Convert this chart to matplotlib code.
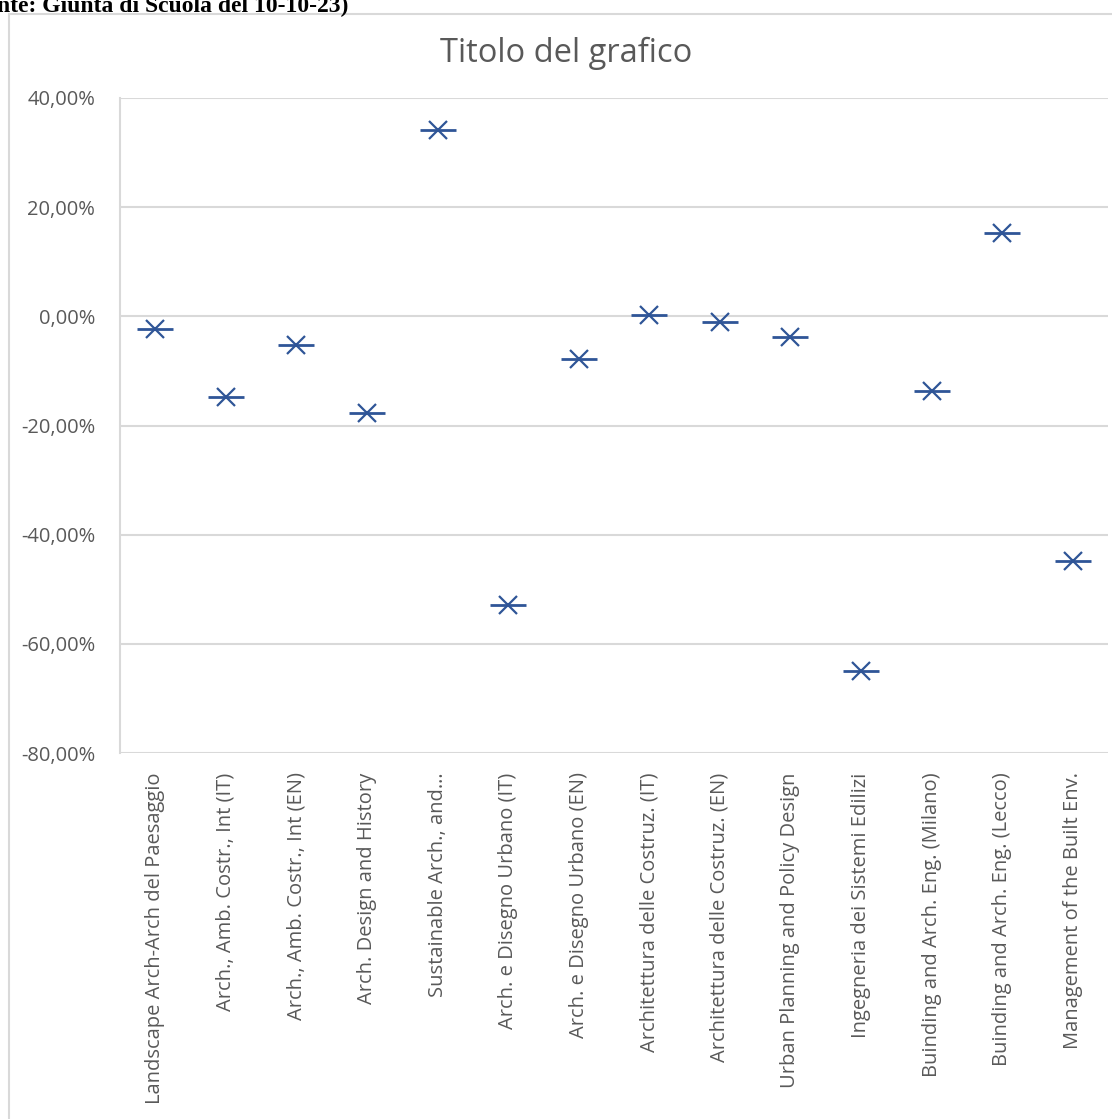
import numpy as np
import matplotlib.pyplot as plt
from matplotlib.patches import Rectangle
from matplotlib.ticker import FuncFormatter

corsi = [
    "Landscape Arch-Arch del Paesaggio",
    "Arch., Amb. Costr., Int (IT)",
    "Arch., Amb. Costr., Int (EN)",
    "Arch. Design and History",
    "Sustainable Arch., and\u2026",
    "Arch. e Disegno Urbano (IT)",
    "Arch. e Disegno Urbano (EN)",
    "Architettura delle Costruz. (IT)",
    "Architettura delle Costruz. (EN)",
    "Urban Planning and Policy Design",
    "Ingegneria dei Sistemi Edilizi",
    "Buinding and Arch. Eng. (Milano)",
    "Buinding and Arch. Eng. (Lecco)",
    "Management of the Built Env.",
]
variazione = [-2.4, -14.8, -5.3, -17.8, 34.2, -52.9, -7.9, 0.2, -1.1, -3.7, -65.0, -13.6, 15.2, -44.9]
y_ticks = [40, 20, 0, -20, -40, -60, -80]

blu = "#2F5597"
grigio = "#D9D9D9"
testo = "#595959"

plt.rcParams['font.family'] = ['Open Sans', 'DejaVu Sans']

fig = plt.figure(figsize=(11.12, 11.19), dpi=100)

# chart frame (Excel-like border)
fig.patches.append(Rectangle((9 / 1112, -0.1), 1.2, 1 - 14 / 1119 + 0.1,
                             transform=fig.transFigure, fill=False,
                             edgecolor=grigio, linewidth=1.5))

fig.text(-3 / 1112, 1 - 12 / 1119, "nte: Giunta di Scuola del 10-10-23)",
         family="Liberation Serif", fontweight="bold", fontsize=17,
         ha="left", va="baseline", color="black")

ax = fig.add_axes([120 / 1112, 1 - 753 / 1119, (1108 - 120) / 1112, (753 - 98) / 1119])

x = np.arange(len(corsi))
ax.plot(x, variazione, linestyle="none", marker="_", markersize=26,
        markeredgewidth=2.0, color=blu)
ax.plot(x, variazione, linestyle="none", marker="x", markersize=13,
        markeredgewidth=1.6, color=blu)

ax.set_xlim(-0.5, len(corsi) - 0.5)
ax.set_ylim(-80, 40)
ax.set_yticks(y_ticks)
ax.yaxis.set_major_formatter(FuncFormatter(lambda v, p: f"{v:.2f}%".replace(".", ",")))
ax.set_xticks(x)
ax.set_xticklabels(corsi, rotation=90, va="top", ha="center")

ax.grid(axis="y", color=grigio, linewidth=1.5)
ax.set_axisbelow(True)
for s in ["top", "right", "bottom"]:
    ax.spines[s].set_visible(False)
ax.spines["left"].set_color(grigio)
ax.spines["left"].set_linewidth(1.5)
ax.tick_params(axis="both", length=0, labelsize=14.5, labelcolor=testo)
ax.tick_params(axis="y", pad=18)
ax.tick_params(axis="x", pad=14)

fig.text(566 / 1112, 1 - 53 / 1119, "Titolo del grafico", fontsize=23.5,
         color=testo, ha="center", va="center")

plt.savefig("out.png", dpi=100)
